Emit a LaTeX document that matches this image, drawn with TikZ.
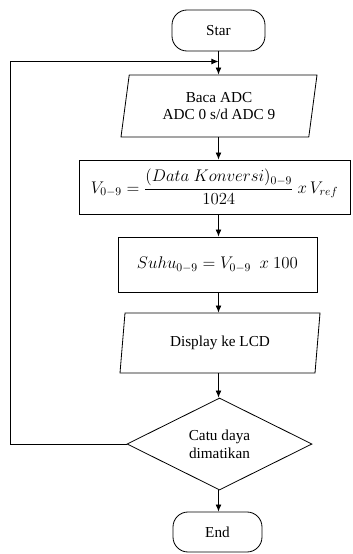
\documentclass[tikz,border=0pt]{standalone}
\usepackage{amsmath}
\usepackage{fontspec}
\setmainfont{Liberation Serif}
\usetikzlibrary{shapes.geometric,arrows.meta}
\tikzset{
    flow/.style={-{Latex[length=6pt,width=5pt]}},
    terminal/.style={draw, rounded corners=0.45cm, minimum width=2.79cm, minimum height=1.23cm},
    iobox/.style={draw, trapezium, trapezium left angle=77, trapezium right angle=103,
        trapezium stretches body, align=center},
    procbox/.style={draw, minimum height=1.62cm, font=\fontsize{14.5}{17}\selectfont},
    decision/.style={draw, diamond, aspect=2, align=center, inner sep=0pt}
}
\begin{document}
\begin{tikzpicture}[x=0.03cm, y=-0.03cm, line width=0.7pt, font=\fontsize{13}{15}\selectfont]
        \useasboundingbox (0,0) rectangle (352,554);
        \node[terminal] (start) at (218.5, 30.5) {Star};
        \node[iobox, minimum width=5.88cm, minimum height=1.86cm] (baca) at (219, 106) {Baca ADC\\ADC 0 s/d ADC 9};
        \node[procbox, minimum width=8.13cm] (konv) at (214.5, 187)
            {$V_{0-9} = \dfrac{(Data\ Konversi)_{0-9}}{1024}\ x\,V_{ref}$};
        \node[procbox, minimum width=5.97cm, minimum height=1.65cm] (suhu) at (217.5, 264.5)
            {$Suhu_{0-9} = V_{0-9}\ \ x\ 100$};
        \node[iobox, minimum width=6cm, minimum height=1.8cm] (lcd) at (220, 343) {Display ke LCD};
        \node[decision, minimum width=5.55cm, minimum height=2.76cm] (cek) at (219.5, 444) {Catu daya\\dimatikan};
        \node[terminal, minimum width=2.67cm, minimum height=1.2cm] (end) at (217.5, 532) {End};
        % connectors
        \coordinate (jn) at (218.5, 61.5);
        \coordinate (lp) at (10, 444);
        \draw (start.south) -- (jn);
        \draw[flow] (jn) -- (jn |- baca.north);
        \draw[flow] (cek.west) -- (lp) |- (jn);
        \draw[flow] (baca.south -| jn) -- (jn |- konv.north);
        \draw[flow] (konv.south -| jn) -- (jn |- suhu.north);
        \draw[flow] (suhu.south -| jn) -- (jn |- lcd.north);
        \draw[flow] (lcd.south -| jn) -- (jn |- cek.north);
        \draw[flow] (cek.south -| jn) -- (jn |- end.north);
    \end{tikzpicture}
\end{document}
